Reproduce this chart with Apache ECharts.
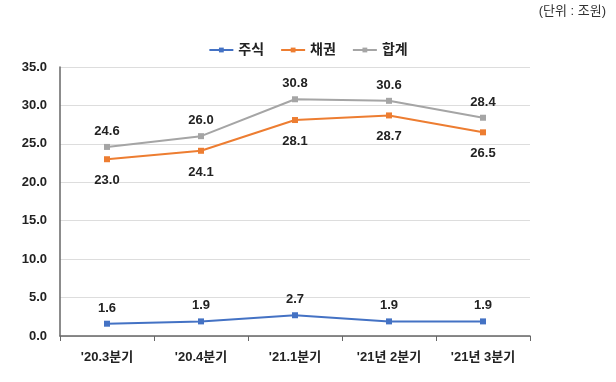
<!DOCTYPE html>
<html><head><meta charset="utf-8">
<script src="https://cdn.jsdelivr.net/npm/echarts@6/dist/echarts.min.js"></script>
<style>html,body{margin:0;padding:0;background:#fff}#c{width:616px;height:382px}</style>
</head><body><div id="c"></div>
<script>
const categories = ["'20.3분기", "'20.4분기", "'21.1분기", "'21년 2분기", "'21년 3분기"];
const stocks = [1.6, 1.9, 2.7, 1.9, 1.9];
const bonds = [23.0, 24.1, 28.1, 28.7, 26.5];
const totals = [24.6, 26.0, 30.8, 30.6, 28.4];
const seriesNames = ['주식', '채권', '합계'];
const unitText = '(단위 : 조원)';

const FONT = "'Liberation Sans', 'Noto Sans CJK KR', sans-serif";
const chart = echarts.init(document.getElementById('c'));
const lbl = (pos) => ({show: true, position: pos, distance: pos === 'top' ? 6 : 12, fontFamily: FONT, fontWeight: 'bold', fontSize: 13, color: '#222', formatter: p => p.value.toFixed(1)});
const mk = (name, data, color, pos) => ({
  name, type: 'line', data, symbol: 'rect', symbolSize: 6,
  lineStyle: {color, width: 2}, itemStyle: {color}, label: lbl(pos)
});
chart.setOption({
  animation: false,
  textStyle: {fontFamily: FONT},
  graphic: [{type: 'text', right: 10, top: 5, style: {text: unitText, fontFamily: FONT, fontSize: 13, fill: '#333'}}],
  legend: {
    top: 38, left: 'center', itemWidth: 24, itemHeight: 6, itemGap: 16,
    textStyle: {fontFamily: FONT, fontWeight: 'bold', fontSize: 14, color: '#222'},
    data: seriesNames
  },
  grid: {left: 60, right: 86, top: 67, bottom: 46},
  xAxis: {
    type: 'category', data: categories, boundaryGap: true,
    axisLine: {lineStyle: {color: '#666', width: 1.5}},
    axisTick: {show: true, length: 5, lineStyle: {color: '#666'}},
    axisLabel: {margin: 15, fontFamily: FONT, fontWeight: 'bold', fontSize: 13, color: '#222'}
  },
  yAxis: {
    type: 'value', min: 0, max: 35, interval: 5,
    axisLine: {show: true, lineStyle: {color: '#666', width: 1.5}},
    axisTick: {show: false},
    splitLine: {lineStyle: {color: '#ddd'}},
    axisLabel: {margin: 13, fontFamily: FONT, fontWeight: 'bold', fontSize: 13, color: '#222', formatter: v => v.toFixed(1)}
  },
  series: [
    mk(seriesNames[0], stocks, '#4472C4', 'top'),
    mk(seriesNames[1], bonds, '#ED7D31', 'bottom'),
    mk(seriesNames[2], totals, '#A5A5A5', 'top')
  ]
});
</script></body></html>
